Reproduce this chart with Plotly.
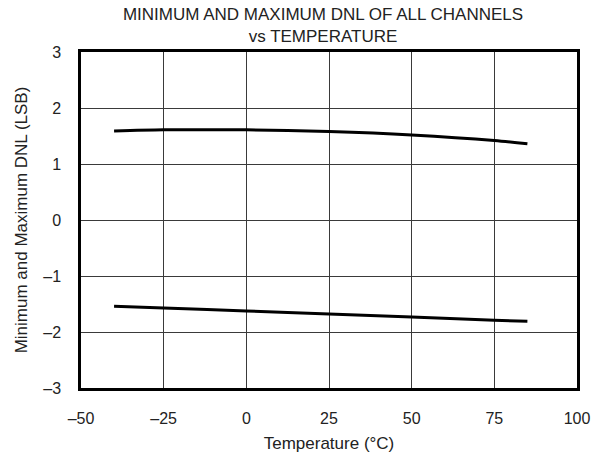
import plotly.graph_objects as go

temperature = [-40, -25, 0, 25, 50, 75, 85]
dnl_max = [1.59, 1.61, 1.61, 1.58, 1.52, 1.42, 1.36]
dnl_min = [-1.54, -1.57, -1.625, -1.68, -1.73, -1.79, -1.81]

x_ticks = [-50, -25, 0, 25, 50, 75, 100]
y_ticks = [-3, -2, -1, 0, 1, 2, 3]

font = "Liberation Sans, Arial, sans-serif"


def dash_label(v):
    return str(v).replace("-", "\u2013")


fig = go.Figure()
for vals in (dnl_max, dnl_min):
    fig.add_trace(go.Scatter(x=temperature, y=vals, mode="lines",
                             line=dict(color="black", width=3, shape="spline", smoothing=0.8),
                             showlegend=False, hoverinfo="skip"))

fig.update_layout(
    width=608, height=453,
    margin=dict(l=81, r=31, t=52, b=65, autoexpand=False),
    paper_bgcolor="white", plot_bgcolor="white",
    font=dict(family=font, color="#222", size=16),
    title=dict(text="MINIMUM AND MAXIMUM DNL OF ALL CHANNELS<br>vs TEMPERATURE",
               x=0.488, xref="paper", xanchor="center",
               y=0.956, yref="container", yanchor="top",
               font=dict(size=17, family=font, color="#222")),
)
fig.update_xaxes(range=[-50, 100], tickvals=x_ticks, ticktext=[dash_label(v) for v in x_ticks],
                 showgrid=True, gridcolor="#3a3a3a", gridwidth=1,
                 showline=True, linecolor="black", linewidth=2.5, mirror=True,
                 ticks="", zeroline=False, ticklabelstandoff=14, automargin=False,
                 title=dict(text="Temperature (°C)", font=dict(size=17), standoff=14),
                 tickfont=dict(size=16))
fig.update_yaxes(range=[-3, 3], tickvals=y_ticks, ticktext=[dash_label(v) for v in y_ticks],
                 showgrid=True, gridcolor="#3a3a3a", gridwidth=1,
                 showline=True, linecolor="black", linewidth=2.5, mirror=True,
                 ticks="", zeroline=False, ticklabelstandoff=14, automargin=False,
                 title=dict(text="Minimum and Maximum DNL (LSB)", font=dict(size=17), standoff=12),
                 tickfont=dict(size=16))

fig.write_html("out.html", config={"displayModeBar": False},
               post_script="document.body.style.margin='0';")
